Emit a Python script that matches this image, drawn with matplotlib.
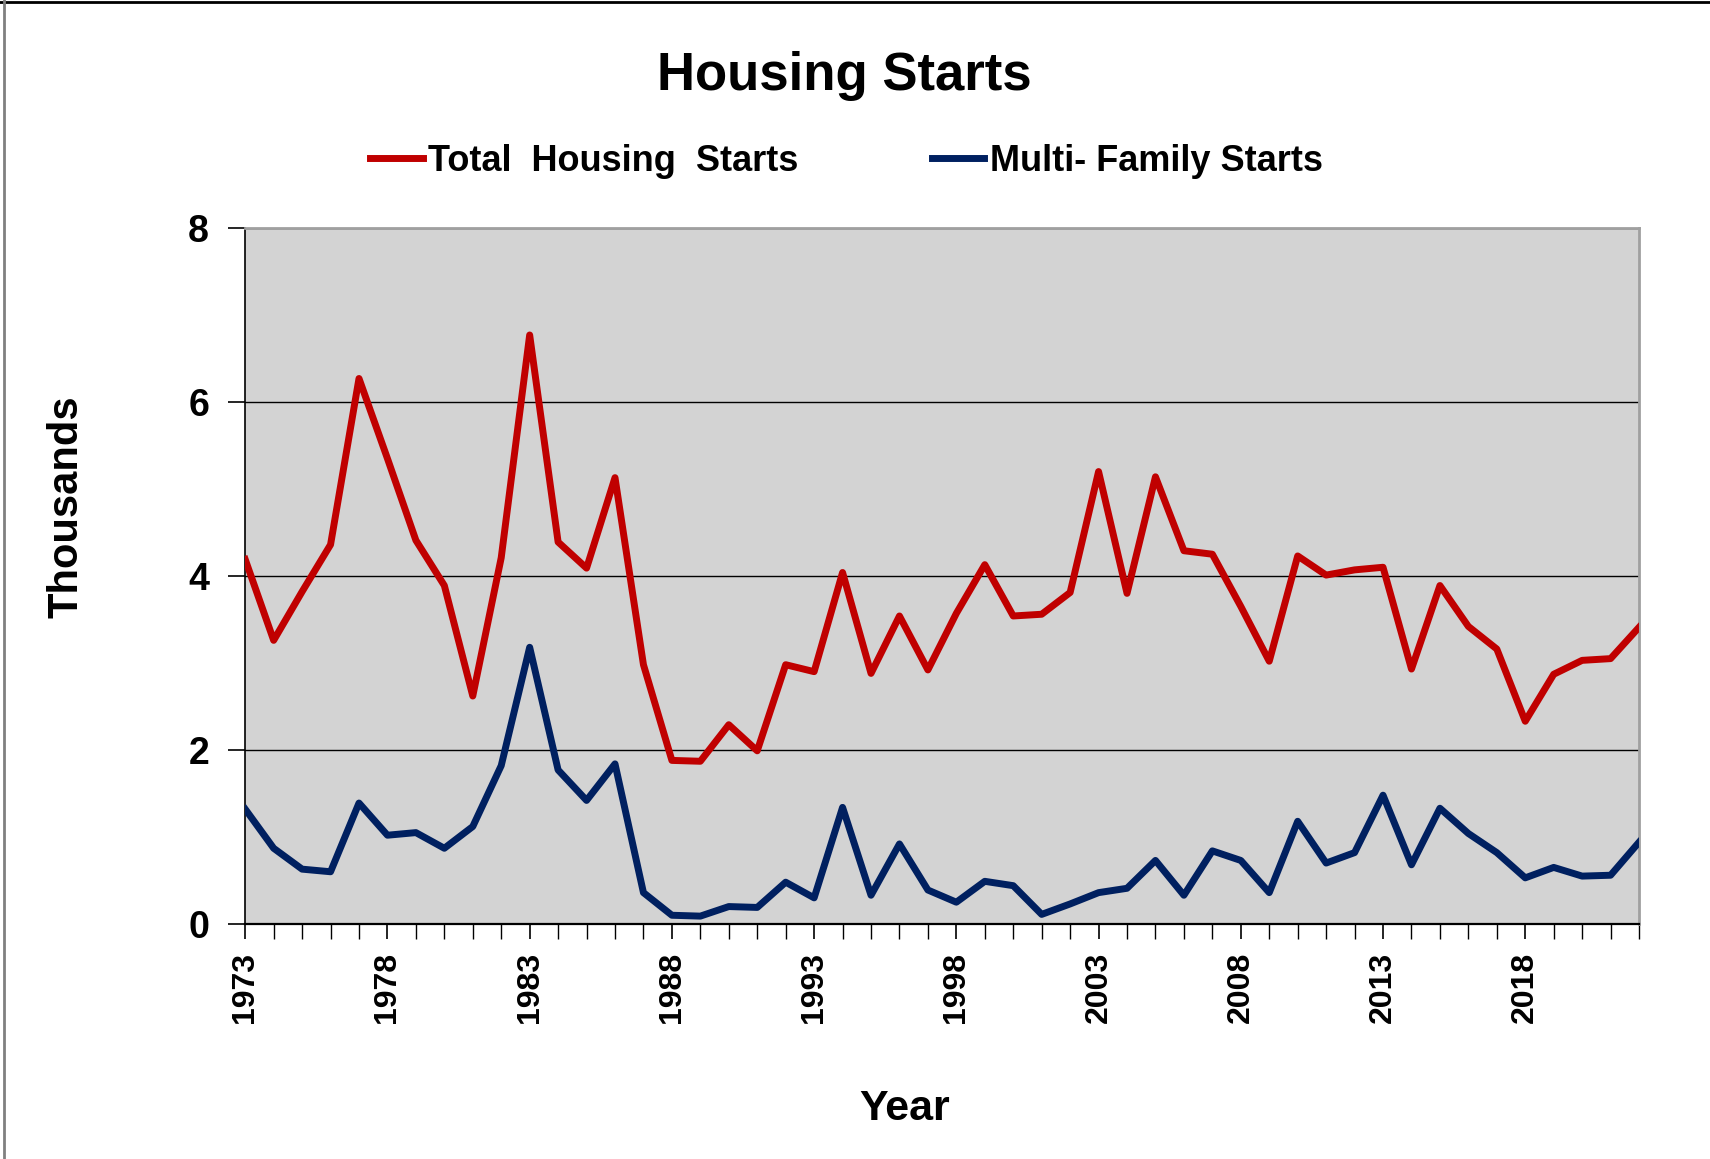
import matplotlib.pyplot as plt
from matplotlib.lines import Line2D

plt.rcParams['font.family'] = ['Liberation Sans', 'DejaVu Sans']
plt.rcParams['font.weight'] = 'bold'

years = list(range(1973, 2023))
total_starts = [4.19, 3.26, 3.82, 4.36, 6.27, 5.35, 4.41, 3.89, 2.62, 4.21,
                6.77, 4.39, 4.09, 5.13, 2.98, 1.88, 1.87, 2.29, 1.99, 2.98,
                2.90, 4.04, 2.88, 3.54, 2.92, 3.57, 4.13, 3.54, 3.56, 3.81,
                5.20, 3.80, 5.14, 4.29, 4.25, 3.65, 3.02, 4.23, 4.01, 4.07,
                4.10, 2.93, 3.89, 3.42, 3.16, 2.33, 2.87, 3.03, 3.05, 3.41]
multi_starts = [1.32, 0.87, 0.63, 0.60, 1.39, 1.02, 1.05, 0.87, 1.12, 1.82,
                3.18, 1.77, 1.42, 1.84, 0.36, 0.10, 0.09, 0.20, 0.19, 0.48,
                0.30, 1.34, 0.33, 0.92, 0.39, 0.25, 0.49, 0.44, 0.11, 0.23,
                0.36, 0.41, 0.73, 0.33, 0.84, 0.73, 0.36, 1.18, 0.70, 0.82,
                1.48, 0.68, 1.33, 1.04, 0.82, 0.53, 0.65, 0.55, 0.56, 0.94]
label_years = list(range(1973, 2023, 5))
y_ticks = [0, 2, 4, 6, 8]

fig = plt.figure(figsize=(17.1, 11.59), dpi=100)
ax = fig.add_axes([0.1434, 0.2028, 0.8151, 0.6005])
ax.set_facecolor('#D3D3D3')

ax.plot(years, total_starts, color='#C00000', lw=5, solid_joinstyle='round', zorder=3)
ax.plot(years, multi_starts, color='#002060', lw=5, solid_joinstyle='round', zorder=3)

ax.set_xlim(1973, 2022)
ax.set_ylim(0, 8)
ax.set_yticks(y_ticks)
ax.set_xticks(label_years)
ax.set_xticks(years, minor=True)
ax.tick_params(axis='y', labelsize=27, length=12, width=1.2, pad=14)
ax.tick_params(axis='x', which='major', labelsize=23, length=11, width=1.2,
               labelrotation=90, pad=9)
ax.tick_params(axis='x', which='minor', length=11, width=1.0)
for lbl in ax.get_xticklabels() + ax.get_yticklabels():
    lbl.set_fontweight('bold')

ax.grid(axis='y', color='black', lw=1.0, zorder=1)
ax.set_axisbelow(True)
for side in ['top', 'right']:
    ax.spines[side].set_color('#A0A0A0')
    ax.spines[side].set_linewidth(2.0)
ax.spines['bottom'].set_linewidth(1.6)
ax.spines['left'].set_linewidth(1.2)

ax.set_ylabel('Thousands', fontsize=30, fontweight='bold')
ax.yaxis.set_label_coords(-0.114, 0.599)
fig.text(0.529, 0.043, 'Year', fontsize=31, fontweight='bold', ha='center', va='center')

fig.text(0.494, 0.934, 'Housing Starts', fontsize=38, fontweight='bold', ha='center', va='center')

handles = [Line2D([0], [0], color='#C00000', lw=5),
           Line2D([0], [0], color='#002060', lw=5)]
fig.legend(handles, ['Total  Housing  Starts', 'Multi- Family Starts'],
           loc='center', bbox_to_anchor=(0.495, 0.861), ncol=2, frameon=False,
           handlelength=1.45, handletextpad=0.15, columnspacing=3.7,
           prop={'weight': 'bold', 'size': 26})

# outer border: black top edge, gray left edge
fig.add_artist(Line2D([0, 1], [0.9985, 0.9985], color='black', lw=2, transform=fig.transFigure))
fig.add_artist(Line2D([0.0025, 0.0025], [0, 1], color='#808080', lw=2, transform=fig.transFigure))

fig.savefig('out.png', dpi=100)
